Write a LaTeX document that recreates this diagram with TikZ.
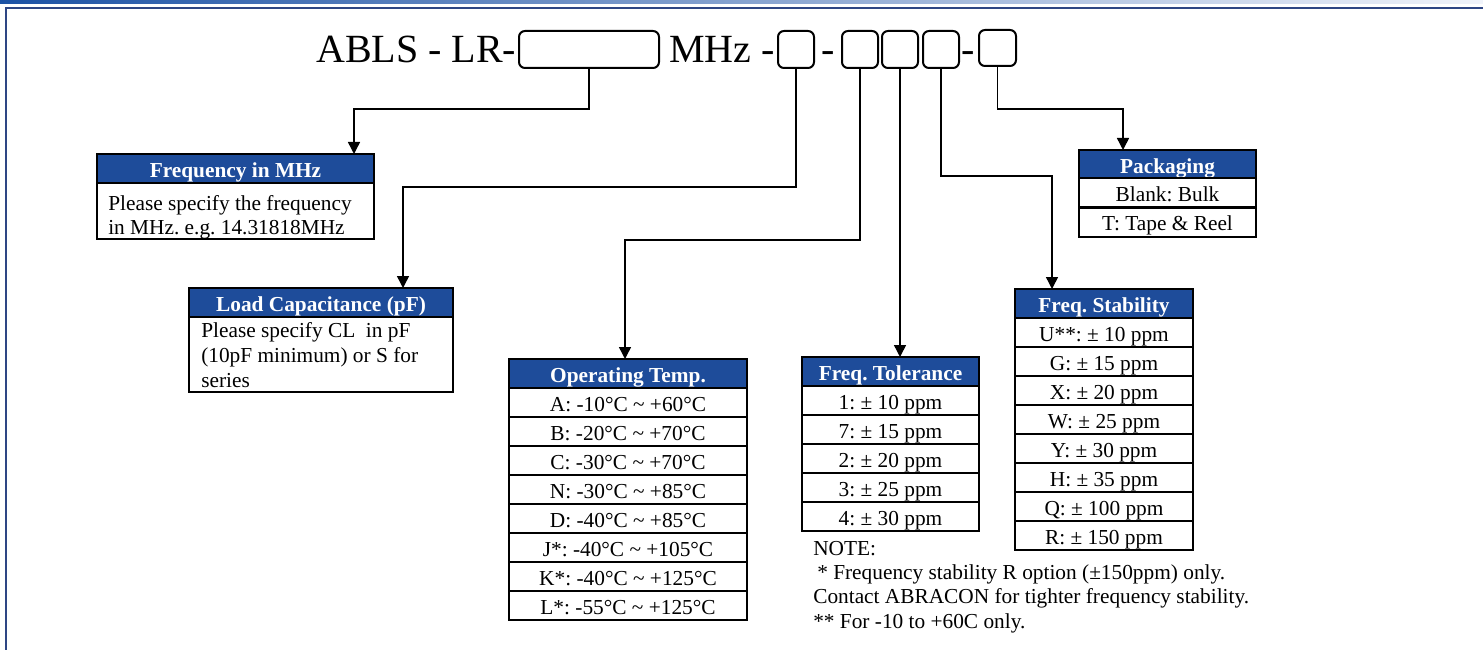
\documentclass[tikz,border=0pt]{standalone}
\usepackage{fontspec}
\setmainfont{Liberation Serif}
\usetikzlibrary{arrows.meta,calc}
\definecolor{hdrblue}{RGB}{30,76,154}
\definecolor{frameblue}{RGB}{46,70,132}
\definecolor{barblue}{RGB}{28,82,165}
\definecolor{barlight}{RGB}{240,243,250}
\newcommand\myTitleFont{\fontsize{30}{36}\selectfont}
\newcommand\myBodyFont{\fontsize{16}{18}\selectfont\frenchspacing}
\newcommand\myTil{\textasciitilde{}}
\begin{document}
\begin{tikzpicture}[x=0.75pt,y=-0.75pt,
  ttl/.style={font=\myTitleFont, inner sep=0pt, anchor=base west},
  rbox/.style={draw, line width=1.5pt, rounded corners=4.5pt, inner sep=0pt, outer sep=0pt, anchor=north west, minimum height={37*0.75pt}},
  hdr/.style={draw, line width=1.6pt, fill=hdrblue, text=white, font=\myBodyFont\bfseries, inner sep=0pt, outer sep=0pt, anchor=north west, minimum height={29*0.75pt}, text height=13.5pt, text depth=0pt},
  row/.style={draw, line width=1.6pt, fill=white, font=\myBodyFont, inner sep=0pt, outer sep=0pt, anchor=north, minimum height={29*0.75pt}, text height=14pt, text depth=0pt},
  bodybox/.style={draw, line width=1.6pt, fill=white, inner sep=0pt, outer sep=0pt, anchor=north},
  bodytext/.style={font=\myBodyFont, align=left, inner sep=0pt, anchor=north west},
  conn/.style={line width=1.1pt},
  arr/.style={conn, -{Triangle[width=9pt,length=9pt]}}
]
\useasboundingbox (0,0) rectangle (1483,649);
\fill[white] (0,0) rectangle (1483,649);
% top gradient bar and frame
\shade[left color=barblue, right color=barlight] (0,0) rectangle (1483,3.2);
\draw[frameblue, line width=1.9pt] (1483,7.8) -| (5.8,660);

% title line
\node[ttl] (pre) at (316,63) {ABLS - LR-};
\node[rbox, minimum width={140*0.75pt}] (b1) at (519,31) {};
\node[ttl] (mhz) at (669,63) {MHz -};
\node[rbox, minimum width={36*0.75pt}] (b2) at (778,31) {};
\node[ttl, anchor=base] (d1) at (828,63) {-};
\node[rbox, minimum width={36*0.75pt}] (b3) at (842,31) {};
\node[rbox, minimum width={36*0.75pt}] (b4) at (882,31) {};
\node[rbox, minimum width={36*0.75pt}] (b5) at (923,31) {};
\node[ttl, anchor=base] (d2) at (968.5,63) {-};
\node[rbox, minimum width={37*0.75pt}, minimum height={36*0.75pt}] (b6) at (979,30) {};

% Frequency in MHz
\node[hdr, minimum width={277*0.75pt}] (fh) at (97,154) {Frequency in MHz};
\node[bodybox, minimum width={277*0.75pt}, minimum height={56*0.75pt}] (fb) at (fh.south) {};
\node[bodytext] (fbt) at ([xshift=8.25pt, yshift=-9.4pt]fb.north west) {Please specify the frequency\\in MHz. e.g. 14.31818MHz};

% Load Capacitance
\node[hdr, minimum width={264*0.75pt}] (lh) at (189,288) {Load Capacitance (pF)};
\node[bodybox, minimum width={264*0.75pt}, minimum height={75*0.75pt}] (lb) at (lh.south) {};
\node[bodytext, font=\fontsize{16}{18.75}\selectfont\frenchspacing] (lbt) at ([xshift=9pt, yshift=-4pt]lb.north west) {Please specify CL\ \ in pF\\(10pF minimum) or S for\\series};

% Operating Temp
\begin{scope}[every node/.append style={minimum width={238*0.75pt}}]
\node[hdr] (oh) at (509,359) {Operating Temp.};
\node[row] (o1) at (oh.south) {A: -10°C \myTil\ +60°C};
\node[row] (o2) at (o1.south) {B: -20°C \myTil\ +70°C};
\node[row] (o3) at (o2.south) {C: -30°C \myTil\ +70°C};
\node[row] (o4) at (o3.south) {N: -30°C \myTil\ +85°C};
\node[row] (o5) at (o4.south) {D: -40°C \myTil\ +85°C};
\node[row] (o6) at (o5.south) {J*: -40°C \myTil\ +105°C};
\node[row] (o7) at (o6.south) {K*: -40°C \myTil\ +125°C};
\node[row] (o8) at (o7.south) {L*: -55°C \myTil\ +125°C};
\end{scope}

% Freq Tolerance
\begin{scope}[every node/.append style={minimum width={177*0.75pt}}]
\node[hdr] (th) at (802,357) {Freq. Tolerance};
\node[row] (t1) at (th.south) {1: ± 10 ppm};
\node[row] (t2) at (t1.south) {7: ± 15 ppm};
\node[row] (t3) at (t2.south) {2: ± 20 ppm};
\node[row] (t4) at (t3.south) {3: ± 25 ppm};
\node[row] (t5) at (t4.south) {4: ± 30 ppm};
\end{scope}

% Freq Stability
\begin{scope}[every node/.append style={minimum width={178*0.75pt}}]
\node[hdr] (sh) at (1015,289) {Freq. Stability};
\node[row] (s1) at (sh.south) {U**: ± 10 ppm};
\node[row] (s2) at (s1.south) {G: ± 15 ppm};
\node[row] (s3) at (s2.south) {X: ± 20 ppm};
\node[row] (s4) at (s3.south) {W: ± 25 ppm};
\node[row] (s5) at (s4.south) {Y: ± 30 ppm};
\node[row] (s6) at (s5.south) {H: ± 35 ppm};
\node[row] (s7) at (s6.south) {Q: ± 100 ppm};
\node[row] (s8) at (s7.south) {R: ± 150 ppm};
\end{scope}

% Packaging
\begin{scope}[every node/.append style={minimum width={177*0.75pt}}]
\node[hdr, minimum height={28*0.75pt}] (ph) at (1079,150) {Packaging};
\node[row, minimum height={29.5*0.75pt}, text height=12.5pt] (p1) at (ph.south) {Blank: Bulk};
\node[row, minimum height={29.5*0.75pt}, text height=12.5pt] (p2) at (p1.south) {T: Tape \& Reel};
\end{scope}

% Note
\node[font=\fontsize{16}{18.2}\selectfont\frenchspacing, align=left, anchor=north west, inner sep=0pt] (note) at (813,541)
  {NOTE:\\\hspace*{3pt}* Frequency stability R option (±150ppm) only.\\Contact ABRACON for tighter frequency stability.\\** For -10 to +60C only.};

% connectors
\draw[arr] (b1.south) -- ++(0,41) -| ([xshift=192.75pt]fh.north west);
\draw[arr] (b2.south) -- ++(0,119) -| ([xshift=160.5pt]lh.north west);
\draw[arr] (b3.south) -- ++(0,172) -| ([xshift=87pt]oh.north west);
\draw[arr] (b4.south) -- (b4.south |- th.north);
\draw[arr] (b5.south) -- ++(0,108) -| ([xshift=27.75pt]sh.north west);
\draw[arr] (b6.south) -- ++(0,43) -| ([xshift=33pt]ph.north west);
\end{tikzpicture}
\end{document}
